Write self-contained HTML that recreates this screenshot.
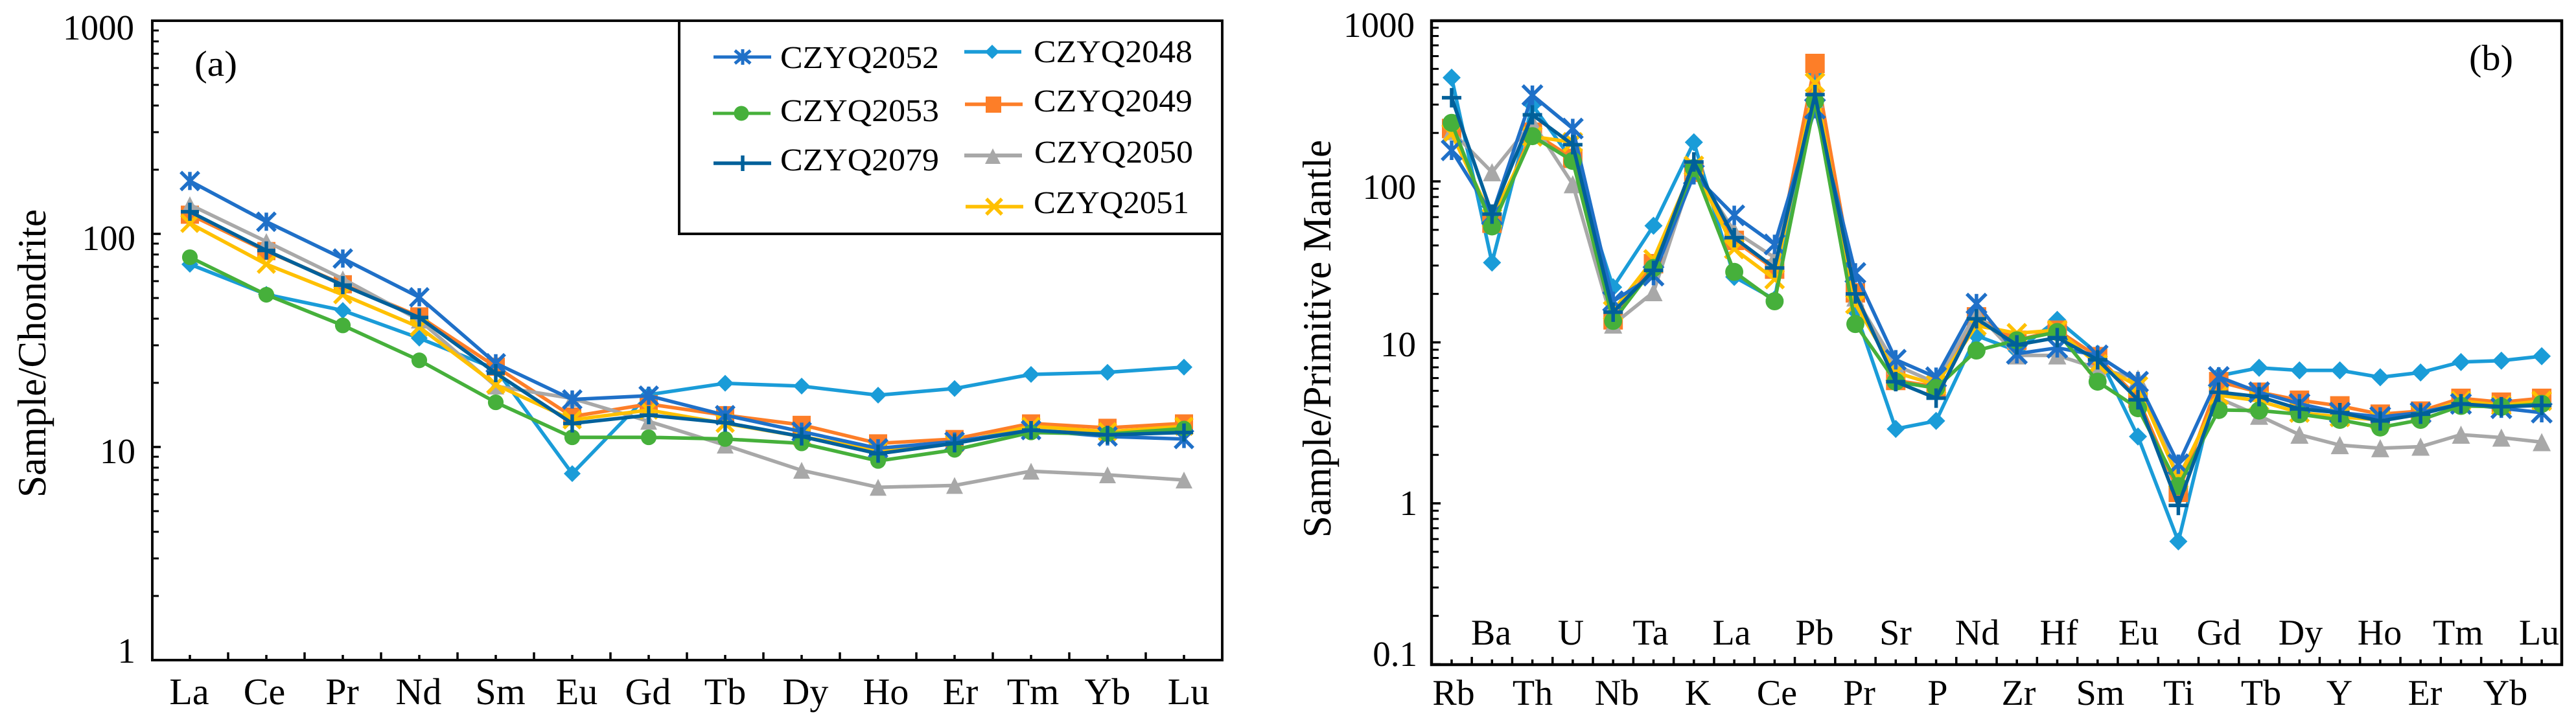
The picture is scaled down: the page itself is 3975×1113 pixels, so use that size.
<!DOCTYPE html>
<html lang="en">
<head>
<meta charset="utf-8">
<title>Chondrite and primitive mantle normalised patterns</title>
<style>
  html, body { margin: 0; padding: 0; background: #fff; }
  svg { display: block; }
  text { font-family: "Liberation Serif", serif; fill: #000; text-rendering: geometricPrecision; }
  .xa { font-size: 58px; text-anchor: middle; }
  .xb { font-size: 56px; text-anchor: middle; }
  .yl { font-size: 55px; text-anchor: end; }
  .leg { font-size: 49px; }
  .ttl { font-size: 62px; }
</style>
</head>
<body>
<svg id="figure" xmlns="http://www.w3.org/2000/svg" width="3975" height="1113" viewBox="0 0 3975 1113">
  <rect width="3975" height="1113" fill="#fff"/>

  <g id="panel-a">
    <g id="ticks-a"></g>
    <g id="marks-a"></g>
    <rect x="235" y="32" width="1651" height="987" fill="none" stroke="#0a0a0a" stroke-width="4"/>
    <text class="ttl" transform="translate(70,768) rotate(-90)" textLength="445" lengthAdjust="spacingAndGlyphs">Sample/Chondrite</text>
    <text x="300" y="117" font-size="56" textLength="66" lengthAdjust="spacingAndGlyphs">(a)</text>
    <text class="yl" x="207" y="61">1000</text>
    <text class="yl" x="209" y="386">100</text>
    <text class="yl" x="209" y="715">10</text>
    <text class="yl" x="209" y="1023">1</text>
    <text class="xa" x="292" y="1087">La</text>
    <text class="xa" x="408" y="1087">Ce</text>
    <text class="xa" x="528" y="1087">Pr</text>
    <text class="xa" x="646" y="1087">Nd</text>
    <text class="xa" x="772" y="1087">Sm</text>
    <text class="xa" x="890" y="1087">Eu</text>
    <text class="xa" x="1000" y="1087">Gd</text>
    <text class="xa" x="1119" y="1087">Tb</text>
    <text class="xa" x="1243" y="1087">Dy</text>
    <text class="xa" x="1367" y="1087">Ho</text>
    <text class="xa" x="1482" y="1087">Er</text>
    <text class="xa" x="1594" y="1087">Tm</text>
    <text class="xa" x="1709" y="1087">Yb</text>
    <text class="xa" x="1834" y="1087">Lu</text>

    <g>
      <rect x="1048" y="32" width="838" height="329" fill="#fff" stroke="#0a0a0a" stroke-width="4"/>
      <g stroke="#1f70c8" stroke-width="5" fill="none">
        <path d="M1101 88H1190M1146 76V100M1134 78L1158 98M1158 78L1134 98"/>
        <text class="leg" x="1204" y="105" stroke="none" style="fill:#000" textLength="245" lengthAdjust="spacingAndGlyphs">CZYQ2052</text>
      </g>
      <g stroke="#46b03b" stroke-width="5" fill="none">
        <path d="M1100 175H1189"/>
        <circle cx="1144" cy="175" r="11.5" fill="#46b03b" stroke="none"/>
        <text class="leg" x="1204" y="187" stroke="none" style="fill:#000" textLength="245" lengthAdjust="spacingAndGlyphs">CZYQ2053</text>
      </g>
      <g stroke="#00609a" stroke-width="5.5" fill="none">
        <path d="M1101 252H1190M1146 240V264"/>
        <text class="leg" x="1204" y="263" stroke="none" style="fill:#000" textLength="245" lengthAdjust="spacingAndGlyphs">CZYQ2079</text>
      </g>
      <g stroke="#1a9cd8" stroke-width="5.5" fill="none">
        <path d="M1488 80H1576"/>
        <path d="M1531 69L1542 80L1531 91L1520 80Z" fill="#1a9cd8" stroke="none"/>
        <text class="leg" x="1595" y="96" stroke="none" style="fill:#000" textLength="245" lengthAdjust="spacingAndGlyphs">CZYQ2048</text>
      </g>
      <g stroke="#fd7e28" stroke-width="5.5" fill="none">
        <path d="M1489 161H1578"/>
        <rect x="1521" y="149" width="24" height="25" fill="#fd7e28" stroke="none"/>
        <text class="leg" x="1595" y="172" stroke="none" style="fill:#000" textLength="245" lengthAdjust="spacingAndGlyphs">CZYQ2049</text>
      </g>
      <g stroke="#a8a8a8" stroke-width="6" fill="none">
        <path d="M1488 240H1577"/>
        <path d="M1532 229L1544 253H1520Z" fill="#a8a8a8" stroke="none"/>
        <text class="leg" x="1596" y="251" stroke="none" style="fill:#000" textLength="245" lengthAdjust="spacingAndGlyphs">CZYQ2050</text>
      </g>
      <g stroke="#ffc000" stroke-width="5.5" fill="none">
        <path d="M1490 319H1579M1522 307L1546 331M1546 307L1522 331"/>
        <text class="leg" x="1595" y="329" stroke="none" style="fill:#000" textLength="240" lengthAdjust="spacingAndGlyphs">CZYQ2051</text>
      </g>
    </g>
  </g>

  <g id="panel-b">
    <g id="ticks-b"></g>
    <g id="marks-b"></g>
    <rect x="2209" y="32" width="1744" height="994" fill="none" stroke="#000" stroke-width="4.5"/>
    <text class="ttl" transform="translate(2053,830) rotate(-90)" textLength="614" lengthAdjust="spacingAndGlyphs">Sample/Primitive Mantle</text>
    <text x="3810" y="108" font-size="56" textLength="68" lengthAdjust="spacingAndGlyphs">(b)</text>
    <text class="yl" x="2183" y="57">1000</text>
    <text class="yl" x="2185" y="307">100</text>
    <text class="yl" x="2185" y="550">10</text>
    <text class="yl" x="2187" y="795">1</text>
    <text class="yl" x="2187" y="1028">0.1</text>
    <text class="xb" x="2243" y="1088">Rb</text>
    <text class="xb" x="2365" y="1088">Th</text>
    <text class="xb" x="2495" y="1088">Nb</text>
    <text class="xb" x="2620" y="1088">K</text>
    <text class="xb" x="2742" y="1088">Ce</text>
    <text class="xb" x="2869" y="1088">Pr</text>
    <text class="xb" x="2990" y="1088">P</text>
    <text class="xb" x="3115" y="1088">Zr</text>
    <text class="xb" x="3241" y="1088">Sm</text>
    <text class="xb" x="3362" y="1088">Ti</text>
    <text class="xb" x="3489" y="1088">Tb</text>
    <text class="xb" x="3610" y="1088">Y</text>
    <text class="xb" x="3742" y="1088">Er</text>
    <text class="xb" x="3866" y="1088">Yb</text>
    <text class="xb" x="2301" y="995">Ba</text>
    <text class="xb" x="2424" y="995">U</text>
    <text class="xb" x="2547" y="995">Ta</text>
    <text class="xb" x="2672" y="995">La</text>
    <text class="xb" x="2800" y="995">Pb</text>
    <text class="xb" x="2925" y="995">Sr</text>
    <text class="xb" x="3051" y="995">Nd</text>
    <text class="xb" x="3177" y="995">Hf</text>
    <text class="xb" x="3300" y="995">Eu</text>
    <text class="xb" x="3424" y="995">Gd</text>
    <text class="xb" x="3550" y="995">Dy</text>
    <text class="xb" x="3672" y="995">Ho</text>
    <text class="xb" x="3793" y="995">Tm</text>
    <text class="xb" x="3918" y="995">Lu</text>
  </g>
</svg>

<script>
// Panel (a): chondrite-normalised REE
const categoriesA = ['La','Ce','Pr','Nd','Sm','Eu','Gd','Tb','Dy','Ho','Er','Tm','Yb','Lu'];
const a2048 = [72,52,43.7,32.4,23.2,7.5,17.6,19.9,19.3,17.5,18.8,21.9,22.4,23.7];
const a2049 = [123,83,58,41,23.8,13.9,15.9,14.1,12.7,10.4,10.9,12.9,12.3,12.9];
const a2050 = [137,92,61.5,39.4,19.3,16.9,13.2,10.2,7.77,6.47,6.6,7.7,7.4,7.0];
const a2051 = [112,72,51.8,36.5,19.6,13.4,14.9,12.9,11.2,9.6,10.4,12.5,11.8,12.5];
const a2052 = [177,114,76.6,50.4,24.7,16.7,17.4,14.1,11.8,9.86,10.6,12.0,11.2,10.9];
const a2053 = [77.7,51.8,37.2,25.5,16.2,11.1,11.1,10.9,10.4,8.6,9.7,11.7,11.5,12.2];
const a2079 = [127,83.6,57.5,40.5,22.2,12.9,14.1,13.0,11.2,9.3,10.4,12.0,11.4,11.7];

// Panel (b): primitive-mantle-normalised spider diagram
const categoriesB = ['Rb','Ba','Th','U','Nb','Ta','K','La','Ce','Pb','Pr','Sr','P','Nd','Zr','Hf','Sm','Eu','Ti','Gd','Tb','Dy','Y','Ho','Er','Tm','Yb','Lu'];
const b2048 = [441,31.3,298,134,22,53,175,25.5,18.5,464,15.6,2.9,3.25,11,8.87,13.8,8.5,2.6,0.58,6.2,6.95,6.7,6.7,6.07,6.5,7.55,7.7,8.2];
const b2049 = [213,55,202,139,13.8,30.8,114,43,28.5,540,20.3,5.8,5.3,14.4,10.3,11.9,8.15,4.5,1.17,5.7,4.9,4.37,4.03,3.58,3.74,4.49,4.25,4.49];
const b2050 = [205,114,233,96,12.9,20.5,120,49,33.6,326,19,7.2,5.6,15.3,8.3,8.3,6.9,5.95,1.45,4.5,3.5,2.67,2.3,2.2,2.25,2.67,2.56,2.4];
const b2051 = [198,59,190,175,15.7,32.8,125,38,24.7,410,17.3,6.5,5.45,12.7,11.4,11.9,7.3,5.35,1.42,4.7,4.33,3.66,3.44,3.3,3.58,4.33,4.06,4.33];
const b2052 = [156,62,343,213,18,26,110,61.5,40.6,283,27,7.8,6.07,17.4,8.5,9.25,8.3,5.7,1.75,6.1,4.9,4.15,3.66,3.44,3.66,4.15,3.9,3.66];
const b2053 = [231,52.5,191,134,13.6,29,121,27.4,18,315,13,5.7,5.2,8.9,10.3,11.6,5.7,3.9,1.28,3.8,3.77,3.58,3.3,2.96,3.3,4.03,3.98,4.15];
const b2079 = [331,62.6,259,169,15.4,28,132,44.7,29,346,20,5.7,4.5,14,9.65,10.7,7.8,4.4,0.97,4.9,4.6,3.86,3.66,3.25,3.58,4.15,3.98,4.06];

// Axis tick values
const decadesA = [1, 10, 100];
const decadesB = [0.1, 1, 10, 100];
const minorMultipliers = [2, 3, 4, 5, 6, 7, 8, 9];

const SVG_NS = 'http://www.w3.org/2000/svg';

function xA(i) { return 293 + i * 118; }
function yA(v) { return 1019 - 329 * Math.log10(v); }
function xB(i) { return 2240 + i * 62.3; }
function yB(v) { return 777 - 248.5 * Math.log10(v); }

function make(tag, attrs, parent) {
  const el = document.createElementNS(SVG_NS, tag);
  for (const k in attrs) el.setAttribute(k, attrs[k]);
  parent.appendChild(el);
  return el;
}

function drawMarker(parent, kind, cx, cy, color, s, name) {
  let el;
  if (kind === 'circle') {
    el = make('circle', { cx: cx, cy: cy, r: s * 0.93, fill: color }, parent);
  } else if (kind === 'square') {
    el = make('rect', { x: cx - s, y: cy - s, width: 2 * s, height: 2 * s, fill: color }, parent);
  } else if (kind === 'diamond') {
    el = make('path', { d: `M${cx} ${cy - s}L${cx + s} ${cy}L${cx} ${cy + s}L${cx - s} ${cy}Z`, fill: color }, parent);
  } else if (kind === 'triangle') {
    el = make('path', { d: `M${cx} ${cy - s}L${cx + s} ${cy + s}H${cx - s}Z`, fill: color }, parent);
  } else if (kind === 'plus') {
    el = make('path', { d: `M${cx - s} ${cy}H${cx + s}M${cx} ${cy - s}V${cy + s}`, fill: 'none', stroke: color, 'stroke-width': 5.5 }, parent);
  } else if (kind === 'cross') {
    el = make('path', { d: `M${cx - s} ${cy - s}L${cx + s} ${cy + s}M${cx + s} ${cy - s}L${cx - s} ${cy + s}`, fill: 'none', stroke: color, 'stroke-width': 5.5 }, parent);
  } else {
    el = make('path', { d: `M${cx - s} ${cy - s}L${cx + s} ${cy + s}M${cx + s} ${cy - s}L${cx - s} ${cy + s}M${cx} ${cy - s}V${cy + s}`, fill: 'none', stroke: color, 'stroke-width': 5.5 }, parent);
  }
  
  
}

function drawSeries(parent, sampleName, values, categories, color, kind, size, x, y) {
  const g = make('g', {}, parent);
  
  
  const line = make('polyline', {
    points: values.map((v, i) => x(i) + ',' + y(v)).join(' '),
    fill: 'none', stroke: color, 'stroke-width': 5.5, 'stroke-linejoin': 'round'
  }, g);
  
  
  values.forEach((v, i) => {
    drawMarker(g, kind, x(i), y(v), color, size, 'point-' + sampleName + '-' + categories[i]);
  });
}

function drawYTicks(parent, decades, y, left, major, minor, prefix) {
  decades.forEach(d => {
    const big = make('line', { x1: left, x2: left + major, y1: y(d), y2: y(d), stroke: '#000', 'stroke-width': 3.5 }, parent);
    
    
    minorMultipliers.forEach(m => {
      const small = make('line', { x1: left, x2: left + minor, y1: y(d * m), y2: y(d * m), stroke: '#000', 'stroke-width': 3 }, parent);
      
      
    });
  });
}

function drawXTicks(parent, categories, x, bottom, shortLen, longLen, prefix) {
  categories.forEach((c, i) => {
    const t = make('line', { x1: x(i), x2: x(i), y1: bottom - shortLen, y2: bottom, stroke: '#000', 'stroke-width': 3.5 }, parent);
    
    
    if (i < categories.length - 1) {
      const h = make('line', { x1: x(i + 0.5), x2: x(i + 0.5), y1: bottom - longLen, y2: bottom, stroke: '#000', 'stroke-width': 3.5 }, parent);
      
      
    }
  });
}

const C2048 = '#1a9cd8', C2049 = '#fd7e28', C2050 = '#a8a8a8', C2051 = '#ffc000',
      C2052 = '#1f70c8', C2053 = '#46b03b', C2079 = '#00609a';

const ticksA = document.getElementById('ticks-a');
drawYTicks(ticksA, decadesA, yA, 235, 13, 10, 'a');
drawXTicks(ticksA, categoriesA, xA, 1019, 8, 12, 'a');

const marksA = document.getElementById('marks-a');
drawSeries(marksA, 'CZYQ2048', a2048, categoriesA, C2048, 'diamond', 13, xA, yA);
drawSeries(marksA, 'CZYQ2049', a2049, categoriesA, C2049, 'square', 14, xA, yA);
drawSeries(marksA, 'CZYQ2050', a2050, categoriesA, C2050, 'triangle', 13, xA, yA);
drawSeries(marksA, 'CZYQ2051', a2051, categoriesA, C2051, 'cross', 13, xA, yA);
drawSeries(marksA, 'CZYQ2052', a2052, categoriesA, C2052, 'star', 14, xA, yA);
drawSeries(marksA, 'CZYQ2053', a2053, categoriesA, C2053, 'circle', 13, xA, yA);
drawSeries(marksA, 'CZYQ2079', a2079, categoriesA, C2079, 'plus', 14, xA, yA);

const ticksB = document.getElementById('ticks-b');
drawYTicks(ticksB, decadesB, yB, 2209, 14, 11, 'b');
drawXTicks(ticksB, categoriesB, xB, 1026, 8, 12, 'b');

const marksB = document.getElementById('marks-b');
drawSeries(marksB, 'CZYQ2048', b2048, categoriesB, C2048, 'diamond', 14, xB, yB);
drawSeries(marksB, 'CZYQ2049', b2049, categoriesB, C2049, 'square', 15, xB, yB);
drawSeries(marksB, 'CZYQ2050', b2050, categoriesB, C2050, 'triangle', 14, xB, yB);
drawSeries(marksB, 'CZYQ2051', b2051, categoriesB, C2051, 'cross', 14, xB, yB);
drawSeries(marksB, 'CZYQ2052', b2052, categoriesB, C2052, 'star', 15, xB, yB);
drawSeries(marksB, 'CZYQ2053', b2053, categoriesB, C2053, 'circle', 15, xB, yB);
drawSeries(marksB, 'CZYQ2079', b2079, categoriesB, C2079, 'plus', 15, xB, yB);
</script>
</body>
</html>
